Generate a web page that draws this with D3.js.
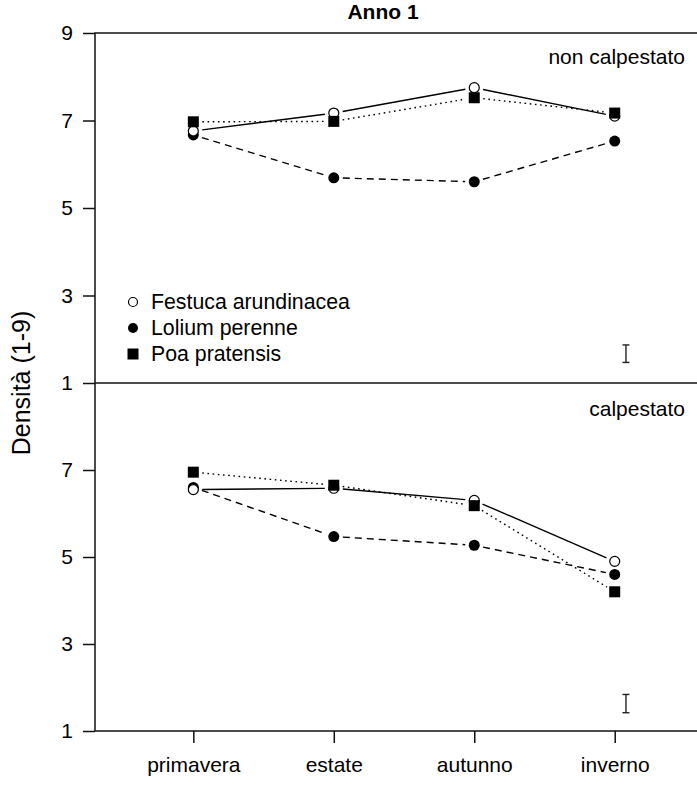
<!DOCTYPE html>
<html>
<head>
<meta charset="utf-8">
<script src="https://cdn.jsdelivr.net/npm/d3@7"></script>
<style>
  body { margin: 0; background: #fff; }
  svg { display: block; }
  text { font-family: "Liberation Sans", Arial, Helvetica, sans-serif; fill: #000; }
</style>
</head>
<body>
<svg id="chart" width="697" height="787"></svg>
<script>
// Stagioni e specie
const seasons = ["primavera", "estate", "autunno", "inverno"];
const species = ["Festuca arundinacea", "Lolium perenne", "Poa pratensis"];

// Densità (1-9), prato non calpestato
const festucaNonCalp = [6.76, 7.17, 7.75, 7.10];
const loliumNonCalp  = [6.67, 5.69, 5.60, 6.53];
const poaNonCalp     = [6.97, 6.98, 7.52, 7.17];

// Densità (1-9), prato calpestato
const festucaCalp = [6.55, 6.58, 6.30, 4.90];
const loliumCalp  = [6.60, 5.47, 5.27, 4.60];
const poaCalp     = [6.95, 6.65, 6.18, 4.20];

// Tacche asse y per i due pannelli
const yTicksTop = [1, 3, 5, 7, 9];
const yTicksBottom = [1, 3, 5, 7];

// Barra della differenza minima significativa (centro, ampiezza)
const lsdCenter = [1.67, 1.63];
const lsdWidth  = [0.40, 0.42];
const lsdPos = 4.08;

const svg = d3.select("#chart");

const x = d3.scaleLinear().domain([0.3, 4.6]).range([95, 699]);
const yTop = d3.scaleLinear().domain([1, 9]).range([383, 33]);
const yBot = d3.scaleLinear().domain([1, 9]).range([731, 383]);

const styles = [
  { name: species[0], dash: null,      sym: "open"   },
  { name: species[1], dash: "7,5",     sym: "filled" },
  { name: species[2], dash: "1.6,3.6", sym: "square" }
];

const panels = [
  { y: yTop, ticks: yTicksTop, series: [festucaNonCalp, loliumNonCalp, poaNonCalp], label: "non calpestato", labelY: 57, lsd: 0 },
  { y: yBot, ticks: yTicksBottom, series: [festucaCalp, loliumCalp, poaCalp], label: "calpestato", labelY: 409, lsd: 1 }
];

const plotLeft = x.range()[0];
const plotRight = x.range()[1];

// Riquadro e separazione tra i pannelli
svg.append("rect")
  .attr("x", plotLeft).attr("y", yTop(9))
  .attr("width", plotRight - plotLeft).attr("height", yBot(1) - yTop(9))
  .attr("fill", "none").attr("stroke", "#111").attr("stroke-width", 1.5);
svg.append("line")
  .attr("x1", plotLeft).attr("x2", plotRight)
  .attr("y1", yTop(1)).attr("y2", yTop(1))
  .attr("stroke", "#111").attr("stroke-width", 1.5);

function drawSymbol(g, type, cx, cy, r) {
  if (type === "open") {
    g.append("circle").attr("cx", cx).attr("cy", cy).attr("r", r || 5)
      .attr("fill", "#fff").attr("stroke", "#000").attr("stroke-width", 1.2);
  } else if (type === "filled") {
    g.append("circle").attr("cx", cx).attr("cy", cy).attr("r", r ? r + 0.5 : 5.5)
      .attr("fill", "#000");
  } else {
    g.append("rect").attr("x", cx - 5.5).attr("y", cy - 5.5)
      .attr("width", 11).attr("height", 11).attr("fill", "#000");
  }
}

const gap = 9;
panels.forEach(p => {
  const g = svg.append("g");

  // Asse y
  const ax = d3.axisLeft(p.y).tickValues(p.ticks).tickSize(12).tickPadding(10).tickFormat(d3.format("d"));
  const ag = g.append("g").attr("transform", `translate(${plotLeft},0)`).call(ax);
  ag.select(".domain").remove();
  ag.selectAll("line").attr("stroke", "#111").attr("stroke-width", 1.5);
  ag.selectAll("text").attr("font-size", 21)
    .style("font-family", "'Liberation Sans', Arial, sans-serif");

  // Linee spezzate con interruzione attorno ai punti
  p.series.forEach((vals, si) => {
    const pts = vals.map((v, i) => [x(i + 1), p.y(v)]);
    for (let i = 0; i < pts.length - 1; i++) {
      const [x1, y1] = pts[i], [x2, y2] = pts[i + 1];
      const dx = x2 - x1, dy = y2 - y1, len = Math.hypot(dx, dy);
      const ux = dx / len, uy = dy / len;
      g.append("line")
        .attr("x1", x1 + ux * gap).attr("y1", y1 + uy * gap)
        .attr("x2", x2 - ux * gap).attr("y2", y2 - uy * gap)
        .attr("stroke", "#000").attr("stroke-width", 1.4)
        .attr("stroke-dasharray", styles[si].dash);
    }
  });
  // Simboli: prima i cerchi, sopra i quadrati
  [1, 0, 2].forEach(si => {
    p.series[si].forEach((v, i) => drawSymbol(g, styles[si].sym, x(i + 1), p.y(v)));
  });

  // Barra LSD
  const c = lsdCenter[p.lsd], h = lsdWidth[p.lsd] / 2;
  const bx = x(lsdPos);
  const eb = g.append("g").attr("stroke", "#222").attr("stroke-width", 1.4);
  eb.append("line").attr("x1", bx).attr("x2", bx).attr("y1", p.y(c - h)).attr("y2", p.y(c + h));
  eb.append("line").attr("x1", bx - 3.5).attr("x2", bx + 3.5).attr("y1", p.y(c - h)).attr("y2", p.y(c - h));
  eb.append("line").attr("x1", bx - 3.5).attr("x2", bx + 3.5).attr("y1", p.y(c + h)).attr("y2", p.y(c + h));

  // Etichetta del trattamento
  g.append("text").attr("x", 685).attr("y", p.labelY).attr("dy", "0.35em")
    .attr("text-anchor", "end").attr("font-size", 21).text(p.label);
});

// Asse x
const xa = d3.axisBottom(x).tickValues([1, 2, 3, 4]).tickSize(12).tickPadding(14)
  .tickFormat(d => seasons[d - 1]);
const xg = svg.append("g").attr("transform", `translate(0,${yBot(1)})`).call(xa);
xg.select(".domain").remove();
xg.selectAll("line").attr("stroke", "#111").attr("stroke-width", 1.5);
xg.selectAll("text").attr("font-size", 21)
  .style("font-family", "'Liberation Sans', Arial, sans-serif");

// Titolo
svg.append("text").attr("x", 383).attr("y", 12).attr("dy", "0.35em")
  .attr("text-anchor", "middle").attr("font-size", 21).attr("font-weight", "bold")
  .text("Anno 1");

// Titolo asse y
svg.append("text")
  .attr("transform", `translate(21,${yTop(1)}) rotate(-90)`)
  .attr("text-anchor", "middle").attr("dy", "0.35em").attr("font-size", 25)
  .text("Densità (1-9)");

// Legenda
const leg = svg.append("g");
styles.forEach((s, i) => {
  const ly = 302 + i * 26;
  drawSymbol(leg, s.sym, 133, ly, 4.5);
  leg.append("text").attr("x", 151).attr("y", ly).attr("dy", "0.35em")
    .attr("font-size", 21.3).text(s.name);
});
</script>
</body>
</html>
